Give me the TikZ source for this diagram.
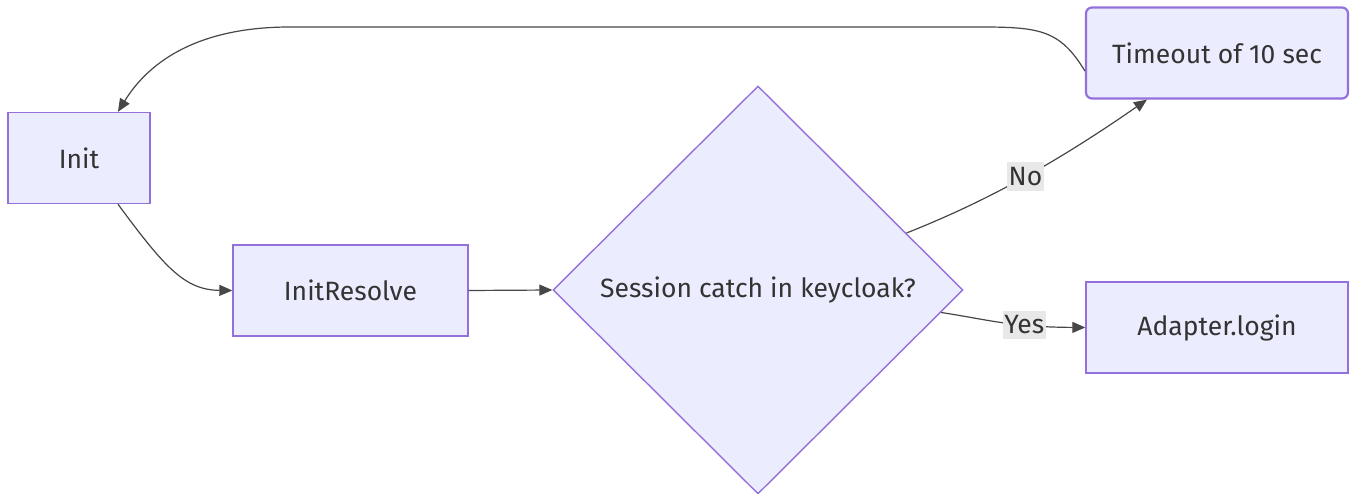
\documentclass[tikz,border=0pt]{standalone}
\usepackage{fontspec}
\setmainfont{Fira Sans}
\usetikzlibrary{arrows.meta, shapes.geometric, positioning}

\definecolor{boxfill}{HTML}{ECECFF}
\definecolor{boxline}{HTML}{9370DB}
\definecolor{txt}{HTML}{333333}
\definecolor{lblfill}{HTML}{E8E8E8}

\begin{document}
\begin{tikzpicture}[x=1pt, y=-1pt, >={Triangle[length=13pt, width=11pt]},
    block/.style={draw=boxline, fill=boxfill, rectangle, line width=1.4pt,
                  minimum width=#1, minimum height=91pt, inner sep=0pt,
                  text=txt, font=\fontsize{26.5}{32}\selectfont},
    block/.default=142pt,
    decision/.style={draw=boxline, fill=boxfill, diamond, line width=1.4pt,
                  minimum width=410pt, minimum height=408pt, inner sep=0pt,
                  text=txt, font=\fontsize{26.5}{32}\selectfont},
    edge/.style={->, line width=1.2pt, draw=txt!90},
    lbl/.style={fill=lblfill, text=txt, inner xsep=1.5pt, inner ysep=5pt,
                font=\fontsize{26.5}{32}\selectfont}
  ]
  \useasboundingbox (0,0) rectangle (1353,494);

  % Nodes
  \node[block] (init) at (79,158) {Init};
  \node[block=235pt] (resolve) at (350.5,290.5) {InitResolve};
  \node[decision] (catch) at (758,290) {Session catch in keycloak?};
  \node[block=262pt, rounded corners=6pt, line width=2.2pt] (timeout) at (1217,53) {Timeout of 10 sec};
  \node[block=262pt] (login) at (1217,327.5) {Adapter.login};

  % Init -> InitResolve
  \draw[edge] ([xshift=39pt]init.south) .. controls (165,268) and (185,290) .. (resolve.west);

  % InitResolve -> decision
  \draw[edge] (resolve.east) -- (catch.west);

  % No
  \draw[edge] (catch.21.5) .. controls (990,200) and (1060,160) .. node[lbl, pos=0.5] {No} ([xshift=-70pt]timeout.south);

  % Yes
  \draw[edge] (catch.-7.9) .. controls (990,320) and (1010,327) .. node[lbl, pos=0.66] {Yes} (login.west);

  % back to Init
  \draw[edge] ([yshift=-18pt]timeout.west) .. controls (1060,30) and (1040,27) .. (980,27)
    -- (290,27) .. controls (200,27) and (150,60) .. ([xshift=39pt]init.north);
\end{tikzpicture}
\end{document}
